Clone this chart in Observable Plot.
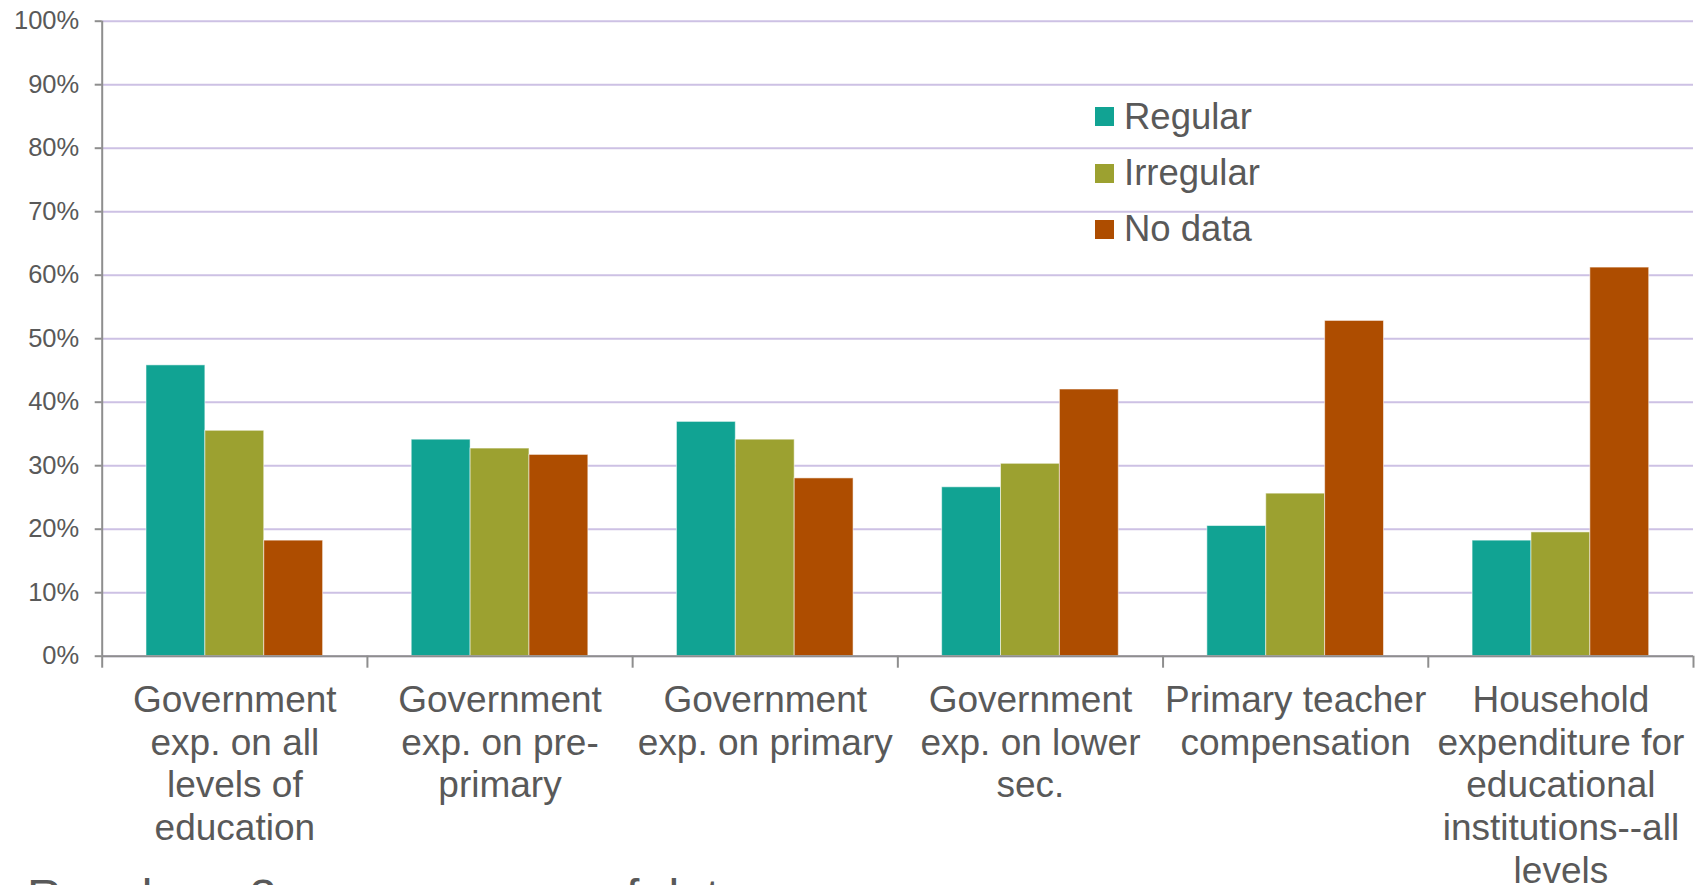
<!DOCTYPE html>
<html>
<head>
<meta charset="utf-8">
<script src="https://cdn.jsdelivr.net/npm/d3@7"></script>
<script src="https://cdn.jsdelivr.net/npm/@observablehq/plot@0.6"></script>
<style>
  html, body { margin: 0; padding: 0; background: #ffffff; }
  body { width: 1696px; height: 885px; overflow: hidden; position: relative; font-family: "Liberation Sans", Arial, sans-serif; }
  #chart { position: absolute; left: 0; top: 0; }
  #chart svg { overflow: visible; }
  #legend { position: absolute; left: 1095px; top: 88.5px; color: #595959; font-size: 36.5px; }
  .row { display: flex; align-items: center; height: 56.4px; }
  .sw { width: 19px; height: 19px; margin-right: 10px; flex: none; }
  #caption { position: absolute; left: 27px; top: 868.5px; font-size: 48px; line-height: 55px; color: #595959; white-space: nowrap; }
</style>
</head>
<body>
<div id="chart"></div>
<div id="legend"></div>
<div id="caption">Regular = 3 or more years of data</div>
<script>
// ---- data ----
const categories = [
  "Government\nexp. on all\nlevels of\neducation",
  "Government\nexp. on pre-\nprimary",
  "Government\nexp. on primary",
  "Government\nexp. on lower\nsec.",
  "Primary teacher\ncompensation",
  "Household\nexpenditure for\neducational\ninstitutions--all\nlevels"
];
const series = ["Regular", "Irregular", "No data"];
const regular   = [45.8, 34.1, 36.9, 26.6, 20.5, 18.2];
const irregular = [35.5, 32.7, 34.1, 30.3, 25.6, 19.5];
const noData    = [18.2, 31.7, 28.0, 42.0, 52.8, 61.2];
const yTicks = [0, 10, 20, 30, 40, 50, 60, 70, 80, 90, 100];
const colors = ["#11a393", "#9ca130", "#ae4d00"];

// ---- build table ----
const seriesValues = [regular, irregular, noData];
const rows = categories.flatMap((c, ci) =>
  series.map((s, si) => ({category: c, ci, series: s, si, value: seriesValues[si][ci]}))
);
const barW = 0.222;
const groupOffset = (1 - series.length * barW) / 2;
const boundaries = d3.range(categories.length + 1);

const axisColor = "#8e8e8e";
const textColor = "#595959";
const gridColor = "#cdc1e4";

const chart = Plot.plot({
  width: 1696,
  height: 868,
  marginLeft: 101.7,
  marginRight: 3,
  marginTop: 20.7,
  marginBottom: 212.3,
  style: {fontFamily: "'Liberation Sans', Arial, sans-serif", background: "transparent", overflow: "visible"},
  x: {domain: [0, categories.length], label: null},
  y: {domain: [0, 100], label: null},
  color: {domain: series, range: colors},
  marks: [
    Plot.gridY(yTicks, {stroke: gridColor, strokeOpacity: 1, strokeWidth: 2}),
    Plot.rect(rows, {
      x1: d => d.ci + groupOffset + d.si * barW,
      x2: d => d.ci + groupOffset + (d.si + 1) * barW,
      y1: () => 0,
      y2: "value",
      fill: "series",
      stroke: "#ffffff",
      strokeOpacity: 0.55,
      strokeWidth: 1
    }),
    Plot.ruleY([0], {stroke: axisColor, strokeWidth: 2}),
    Plot.ruleX([0], {stroke: axisColor, strokeWidth: 2}),
    Plot.axisY({
      ticks: yTicks,
      tickFormat: d => d + "%",
      tickSize: 7,
      tickPadding: 16,
      fontSize: 25.5,
      stroke: axisColor,
      strokeWidth: 2,
      fill: textColor
    }),
    Plot.axisX({
      ticks: boundaries,
      tickFormat: () => "",
      tickSize: 12,
      stroke: axisColor,
      strokeWidth: 2
    }),
    Plot.text(categories, {
      x: (d, i) => i + 0.5,
      y: () => 0,
      text: d => d,
      lineAnchor: "top",
      dy: 25.5,
      fontSize: 37,
      lineHeight: 1.155,
      fill: textColor
    })
  ]
});
document.getElementById("chart").appendChild(chart);

// ---- legend ----
const legend = document.getElementById("legend");
series.forEach((s, i) => {
  const row = document.createElement("div");
  row.className = "row";
  const sw = document.createElement("span");
  sw.className = "sw";
  sw.style.background = colors[i];
  const t = document.createElement("span");
  t.textContent = s;
  row.appendChild(sw);
  row.appendChild(t);
  legend.appendChild(row);
});
</script>
</body>
</html>
